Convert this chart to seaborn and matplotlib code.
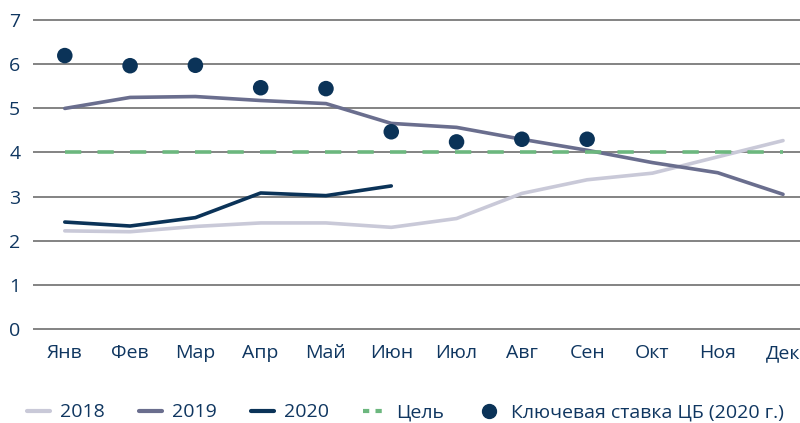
import pandas as pd
import numpy as np
import matplotlib.pyplot as plt
import seaborn as sns
from matplotlib.lines import Line2D

sns.set_theme(style="white")
plt.rcParams['font.family'] = ['Open Sans', 'DejaVu Sans']

months = ["Янв", "Фев", "Мар", "Апр", "Май", "Июн", "Июл", "Авг", "Сен", "Окт", "Ноя", "Дек"]
infl_2018 = [2.22, 2.20, 2.32, 2.40, 2.40, 2.30, 2.50, 3.07, 3.38, 3.53, 3.90, 4.27]
infl_2019 = [5.00, 5.25, 5.27, 5.18, 5.11, 4.66, 4.57, 4.30, 4.05, 3.77, 3.54, 3.05]
infl_2020 = [2.42, 2.33, 2.52, 3.08, 3.02, 3.24]
target = [4.0] * 12
key_rate = [6.20, 5.97, 5.98, 5.47, 5.45, 4.47, 4.24, 4.30, 4.30]

c2018, c2019, c2020 = "#c9c9d8", "#6a6e8e", "#0b3358"
cgoal = "#6cb77e"
txt = "#0f3660"

df = pd.concat([
    pd.DataFrame({"x": range(12), "y": infl_2018, "s": "2018"}),
    pd.DataFrame({"x": range(12), "y": infl_2019, "s": "2019"}),
    pd.DataFrame({"x": range(6), "y": infl_2020, "s": "2020"}),
])
kr = pd.DataFrame({"x": range(len(key_rate)), "y": key_rate})

fig = plt.figure(figsize=(8, 4.23), dpi=100)
ax = fig.add_axes([0.041, 0.22, 0.959, 0.735])

for y in range(8):
    ax.axhline(y, color="#7a7a7a", lw=1.3, zorder=0)

sns.lineplot(data=df, x="x", y="y", hue="s", palette={"2018": c2018, "2019": c2019, "2020": c2020},
             lw=2.6, ax=ax, legend=False)
ax.plot(range(12), target, color=cgoal, lw=2.6, dashes=(4.5, 4.5), zorder=3)
sns.scatterplot(data=kr, x="x", y="y", color=c2020, s=125, edgecolor="none", ax=ax, zorder=4)

ax.set_xlim(-0.49, 11.26)
ax.set_ylim(-0.03, 7.03)
ax.set_xticks(range(12))
ax.set_xticklabels(months)
ax.set_yticks(range(8))
ax.tick_params(axis="both", colors=txt, labelsize=14, length=0)
ax.tick_params(axis="x", pad=10)
ax.tick_params(axis="y", pad=9)
ax.set_xlabel("")
ax.set_ylabel("")
sns.despine(ax=ax, left=True, bottom=True)

handles = [
    Line2D([], [], color=c2018, lw=3),
    Line2D([], [], color=c2019, lw=3),
    Line2D([], [], color=c2020, lw=3),
    Line2D([], [], color=cgoal, lw=3, dashes=(1.5, 1.5)),
    Line2D([], [], color=c2020, lw=0, marker="o", markersize=10),
]
labels = ["2018", "2019", "2020", "Цель", "Ключевая ставка ЦБ (2020 г.)"]
leg = fig.legend(handles, labels, loc="center left", bbox_to_anchor=(0.012, 0.025), ncol=5, frameon=False,
                 fontsize=14, handlelength=1.2, columnspacing=1.75, handletextpad=0.5)
for t in leg.get_texts():
    t.set_color(txt)

fig.savefig("out.png", dpi=100)
